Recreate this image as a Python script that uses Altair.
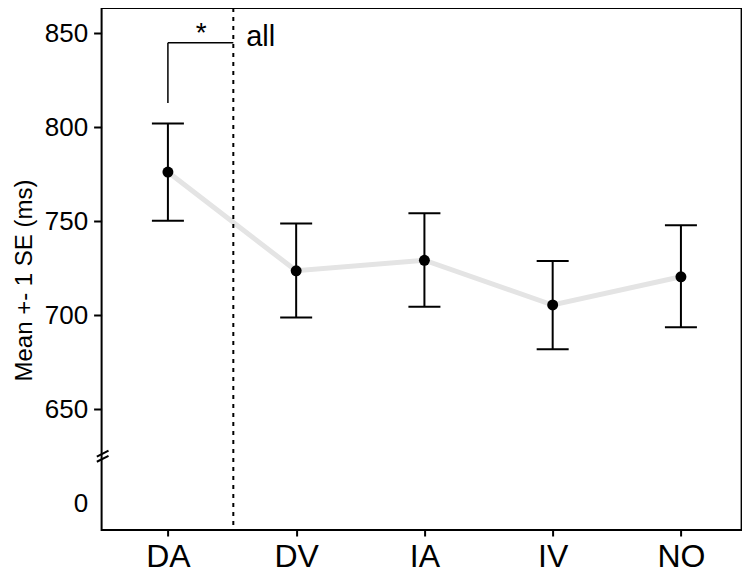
import altair as alt
import pandas as pd

categories = ["DA", "DV", "IA", "IV", "NO"]
means = [776.2, 723.7, 729.3, 705.5, 720.5]
lower = [750.3, 698.9, 704.6, 681.9, 693.6]
upper = [802.1, 748.9, 754.3, 728.9, 747.9]

y_ticks = [600, 650, 700, 750, 800, 850]   # 600 is displayed as "0" (axis break)
divider_x = [0.51]
bracket_h = {"x": [0.0], "x2": [0.51], "y": [845.0]}
bracket_v = {"x": [0.0], "y": [813.0], "y2": [845.0]}
star = {"x": [0.26], "y": [845.0], "t": ["*"]}
group_label = {"x": [0.61], "y": [843.2], "t": ["all"]}
break_marks = {"x": [-0.554, -0.554], "x2": [-0.463, -0.463],
               "y": [624.8, 622.1], "y2": [628.0, 625.2]}

df = pd.DataFrame({"idx": list(range(len(categories))), "cat": categories,
                   "mean": means, "lo": lower, "hi": upper})

FONT = "Liberation Sans"
label_expr = "[" + ",".join(f"'{c}'" for c in categories) + "][datum.value]"

xs = alt.Scale(domain=[-0.517, 4.473], nice=False, zero=False)
ys = alt.Scale(domain=[585.8, 863.5], nice=False, zero=False)

x_axis = alt.Axis(values=list(range(len(categories))), labelExpr=label_expr,
                  grid=False, domain=False, tickSize=6, tickWidth=2, tickColor="black",
                  labelFontSize=32, labelFont=FONT, labelColor="black",
                  labelPadding=6, title=None)
y_axis = alt.Axis(values=y_ticks,
                  labelExpr="datum.value == 600 ? '0' : datum.label",
                  grid=False, domain=False, tickSize=8, tickWidth=2, tickColor="black",
                  tickOpacity={"condition": {"test": "datum.value == 600", "value": 0}, "value": 1},
                  labelFontSize=26, labelFont=FONT, labelColor="black", labelPadding=6,
                  title="Mean +- 1 SE (ms)", titleFont=FONT, titleFontSize=24,
                  titleFontWeight="normal", titleColor="black",
                  titleX=-70, titleY=272, titleBaseline="alphabetic", titleAngle=270)

base = alt.Chart(df)

line = base.mark_line(color="#e4e4e4", strokeWidth=5).encode(
    x=alt.X("idx:Q", scale=xs, axis=x_axis),
    y=alt.Y("mean:Q", scale=ys, axis=y_axis),
)
err = base.mark_rule(color="black", strokeWidth=2).encode(
    x="idx:Q", y="lo:Q", y2="hi:Q")
cap_lo = base.mark_tick(color="black", opacity=1, orient="horizontal", size=32, thickness=2).encode(
    x="idx:Q", y="lo:Q")
cap_hi = base.mark_tick(color="black", opacity=1, orient="horizontal", size=32, thickness=2).encode(
    x="idx:Q", y="hi:Q")
pts = base.mark_circle(color="black", opacity=1, size=120).encode(x="idx:Q", y="mean:Q")

divider = alt.Chart(pd.DataFrame({"x": divider_x})).mark_rule(
    color="black", strokeWidth=2, strokeDash=[4, 5]).encode(x="x:Q")
bh = alt.Chart(pd.DataFrame(bracket_h)).mark_rule(color="black", strokeWidth=1.5).encode(
    x="x:Q", x2="x2:Q", y="y:Q")
bv = alt.Chart(pd.DataFrame(bracket_v)).mark_rule(color="black", strokeWidth=1.5).encode(
    x="x:Q", y="y:Q", y2="y2:Q")
star_t = alt.Chart(pd.DataFrame(star)).mark_text(
    font=FONT, fontSize=28, align="center", baseline="alphabetic", color="black", dy=-1).encode(
    x="x:Q", y="y:Q", text="t:N")
all_t = alt.Chart(pd.DataFrame(group_label)).mark_text(
    font=FONT, fontSize=29, align="left", baseline="alphabetic", color="black").encode(
    x="x:Q", y="y:Q", text="t:N")
brk = alt.Chart(pd.DataFrame(break_marks)).mark_rule(color="black", strokeWidth=2, clip=False).encode(
    x="x:Q", x2="x2:Q", y="y:Q", y2="y2:Q")

chart = alt.layer(line, err, cap_lo, cap_hi, pts, divider, bh, bv, star_t, all_t, brk).properties(
    width=640, height=522,
    background="white",
    autosize=alt.AutoSizeParams(type="none"),
    padding={"left": 93.6, "top": 0, "right": 0, "bottom": 46},
).configure_view(stroke="black", strokeWidth=2)

chart.save("out.html", embed_options={"renderer": "svg", "actions": False})
